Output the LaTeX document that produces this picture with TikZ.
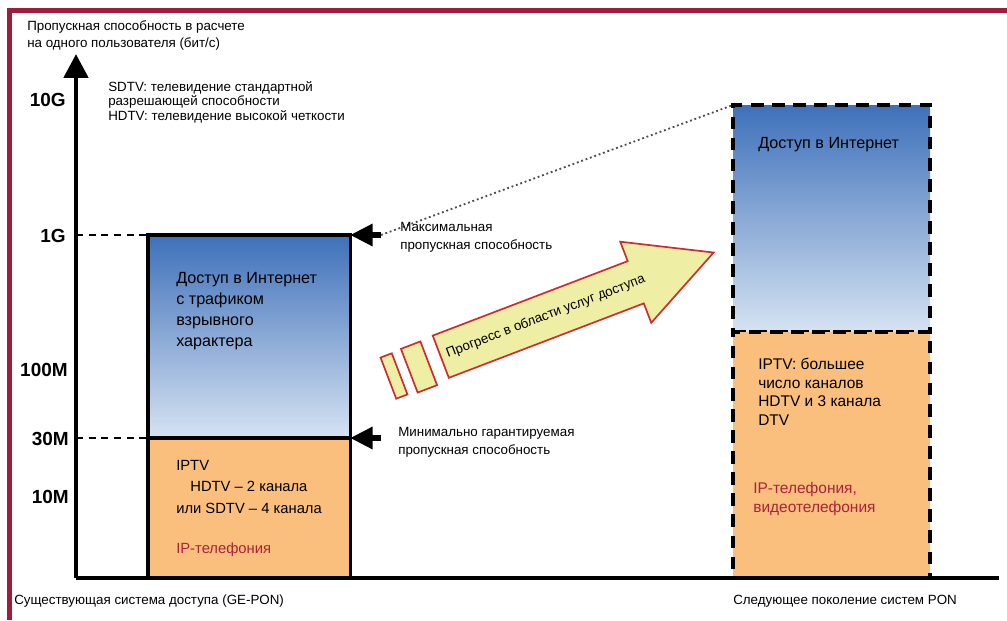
\documentclass[tikz,border=0pt]{standalone}
\usepackage{fontspec}
\setmainfont{Liberation Sans}
\usetikzlibrary{arrows.meta, positioning, shapes.arrows}
\definecolor{framered}{RGB}{158,28,60}
\definecolor{inetdark}{RGB}{62,112,186}
\definecolor{inetlight}{RGB}{214,227,242}
\definecolor{tvorange}{RGB}{250,190,125}
\definecolor{voipred}{RGB}{172,34,58}
\definecolor{arrowfill}{RGB}{238,238,165}
\definecolor{arrowline}{RGB}{205,45,45}

\tikzset{
  small/.style={font=\fontsize{9.5}{12.6}\selectfont, align=left, anchor=north west},
  legend/.style={small, font=\fontsize{9.5}{10.4}\selectfont},
  boxtext/.style={font=\fontsize{11.5}{15}\selectfont, align=left, anchor=north west},
  tvtext/.style={font=\fontsize{10.5}{15.3}\selectfont, align=left, anchor=north west},
  ticklbl/.style={font=\fontsize{13.5}{13.5}\selectfont\bfseries, anchor=east},
  oldbox/.style={draw, line width=2.2pt, minimum width=5.05cm, outer sep=0pt, anchor=north west},
  newbox/.style={draw, line width=2.4pt, dash pattern=on 9pt off 6pt, minimum width=4.925cm, outer sep=0pt, anchor=north west},
  inetfill/.style={top color=inetdark, bottom color=inetlight},
  level/.style={line width=1.3pt, dash pattern=on 5pt off 4pt},
  pointer/.style={line width=4pt, -{Triangle[length=16pt,width=15pt]}},
  dotline/.style={dotted, line width=1.3pt, black!70},
  progarrow/.style={single arrow, draw=arrowline, fill=arrowfill, line width=1.2pt,
    single arrow head extend=0.52cm, single arrow tip angle=55, minimum height=7.3cm,
    inner xsep=4pt, inner ysep=11pt, font=\fontsize{9.5}{11}\selectfont, rotate=20.9},
  bar/.style={draw=arrowline, fill=arrowfill, line width=1.2pt, rotate=20.9}
}

\begin{document}
\begin{tikzpicture}[x=0.025cm, y=-0.025cm, every node/.style={inner sep=0pt}]
  \useasboundingbox (0,0) rectangle (1007,620);
  % frame
  \draw[line width=3.6pt, framered] (9.5,620) -- (9.5,10.5) -- (1007,10.5);

  % axis captions
  \node[small] (ytitle) at (27,20) {Пропускная способность в расчете\\на одного пользователя (бит/с)};
  \node[legend] (abbr) at (108,81) {SDTV: телевидение стандартной\\разрешающей способности\\HDTV: телевидение высокой четкости};

  % existing system (GE-PON)
  \node[oldbox, inetfill, minimum height=5.075cm] (oldinet) at (148,235) {};
  \node[oldbox, fill=tvorange, minimum height=3.5cm] (oldtv) at (148,438) {};
  \node[boxtext] (oldinettxt) at (176,272) {Доступ в Интернет\\с трафиком\\взрывного\\характера};
  \node[tvtext] (oldtvtxt) at (176,460) {IPTV\\\hspace*{10pt}HDTV – 2 канала\\или SDTV – 4 канала};
  \node[tvtext, text=voipred] (oldvoip) at (176,543) {IP-телефония};

  % next generation PON
  \node[newbox, inetfill, minimum height=5.675cm] (newinet) at (733,105) {};
  \node[newbox, fill=tvorange, minimum height=6.15cm] (newtv) at (733,332) {};
  \node[boxtext] (newinettxt) at (758,137) {Доступ в Интернет};
  \node[tvtext, font=\fontsize{11}{13.2}\selectfont] (newtvtxt) at (758,358) {IPTV: большее\\число каналов\\HDTV и 3 канала\\DTV};
  \node[tvtext, font=\fontsize{11}{13.6}\selectfont, text=voipred] (newvoip) at (753,482) {IP-телефония,\\видеотелефония};

  % axes
  \coordinate (origin) at (76,578);
  \coordinate (ytip) at (76,54);
  \coordinate (xend) at (999,578);
  \draw[line width=2.2pt] (origin) -- (xend);
  \draw[line width=3.5pt, -{Triangle[length=17pt,width=17pt]}] (origin) -- (ytip);

  % levels
  \node[ticklbl] (t10g) at (66,100) {10G};
  \node[ticklbl] (t1g) at (66,236) {1G};
  \node[ticklbl] (t100m) at (68,370) {100M};
  \node[ticklbl] (t30m) at (69,439) {30M};
  \node[ticklbl] (t10m) at (69,497) {10M};
  \draw[level] (oldinet.north west -| origin) -- (oldinet.north west);
  \draw[level] (oldtv.north west -| origin) -- (oldtv.north west);

  % max / min pointers
  \coordinate (maxtail) at (381,235);
  \coordinate (mintail) at (381,438);
  \draw[dotline] (maxtail) -- (newinet.north west);
  \draw[pointer] (maxtail) -- (oldinet.north east);
  \draw[pointer] (mintail) -- (oldtv.north east);
  \node[small] (maxtxt) at (400,222) {Максимальная\\пропускная способность};
  \node[small] (mintxt) at (398,427) {Минимально гарантируемая\\пропускная способность};

  % progress arrow
  \node[bar, minimum width=0.3cm, minimum height=1.1cm] (bar1) at (394,376) {};
  \node[bar, minimum width=0.52cm, minimum height=1.17cm] (bar2) at (419,367) {};
  \node[progarrow, anchor=tail] (progress) at (440,357) {Прогресс в области услуг доступа\hspace*{17pt}};

  % system names
  \node[small] (oldsys) at (14,595) {Существующая система доступа (GE-PON)};
  \node[small] (newsys) at (733,595) {Следующее поколение систем PON};
\end{tikzpicture}
\end{document}
